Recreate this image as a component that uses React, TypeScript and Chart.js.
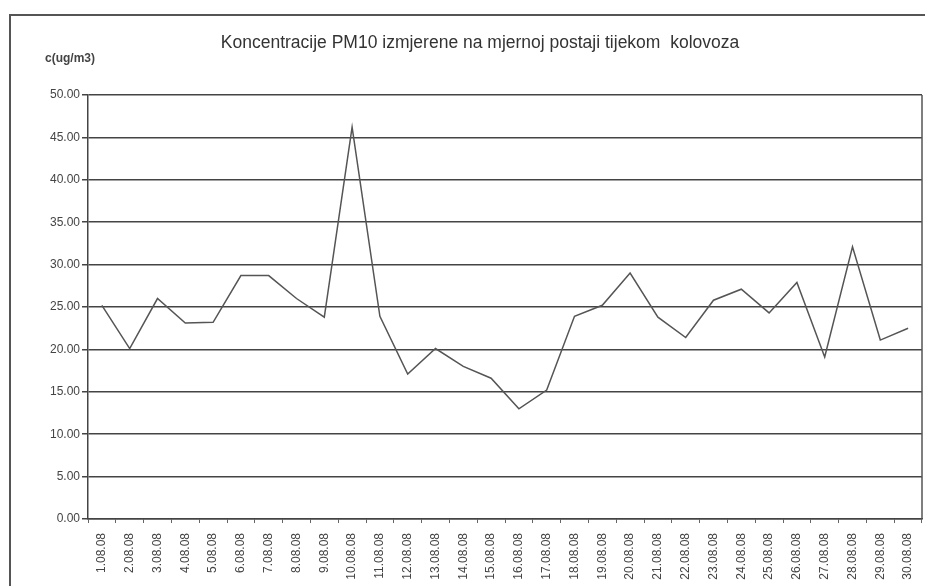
import React, { useEffect, useRef } from "react";
import { Chart, registerables } from "chart.js";

Chart.register(...registerables);

const TITLE = "Koncentracije PM10 izmjerene na mjernoj postaji tijekom  kolovoza";
const Y_LABEL = "c(ug/m3)";

const days: string[] = [
  "1.08.08", "2.08.08", "3.08.08", "4.08.08", "5.08.08", "6.08.08", "7.08.08", "8.08.08",
  "9.08.08", "10.08.08", "11.08.08", "12.08.08", "13.08.08", "14.08.08", "15.08.08",
  "16.08.08", "17.08.08", "18.08.08", "19.08.08", "20.08.08", "21.08.08", "22.08.08",
  "23.08.08", "24.08.08", "25.08.08", "26.08.08", "27.08.08", "28.08.08", "29.08.08", "30.08.08",
];

const pm10: number[] = [
  25.2, 20.1, 26.0, 23.1, 23.2, 28.7, 28.7, 26.0, 23.8, 46.2,
  23.9, 17.1, 20.1, 18.0, 16.6, 13.0, 15.2, 23.9, 25.2, 29.0,
  23.8, 21.4, 25.8, 27.1, 24.3, 27.9, 19.1, 32.1, 21.1, 22.5,
];

const Y_MIN = 0;
const Y_MAX = 50;
const Y_STEP = 5;

const FONT = "'Liberation Sans', Arial, sans-serif";

export default function App() {
  const ref = useRef<HTMLCanvasElement | null>(null);

  useEffect(() => {
    if (!ref.current) return;

    const decor = {
      id: "decor",
      beforeDraw(chart: any) {
        const { ctx } = chart;
        ctx.save();
        ctx.fillStyle = "#ffffff";
        ctx.fillRect(0, 0, chart.width, chart.height);
        // outer frame (top + left)
        ctx.strokeStyle = "#555";
        ctx.lineWidth = 2;
        ctx.beginPath();
        ctx.moveTo(10, chart.height);
        ctx.lineTo(10, 15);
        ctx.lineTo(chart.width, 15);
        ctx.stroke();
        // title
        ctx.fillStyle = "#333";
        ctx.font = `17.5px ${FONT}`;
        ctx.textAlign = "center";
        ctx.textBaseline = "middle";
        ctx.fillText(TITLE, 480, 43);
        // y unit label
        ctx.font = `bold 12px ${FONT}`;
        ctx.fillStyle = "#444";
        ctx.fillText(Y_LABEL, 70, 59);
        ctx.restore();
      },
      afterDatasetsDraw(chart: any) {
        const { ctx, chartArea } = chart;
        ctx.save();
        ctx.strokeStyle = "#555";
        ctx.lineWidth = 1.5;
        ctx.beginPath();
        ctx.moveTo(chartArea.right, chartArea.top);
        ctx.lineTo(chartArea.right, chartArea.bottom);
        ctx.stroke();
        ctx.restore();
      },
    };

    const chart = new Chart(ref.current, {
      type: "line",
      data: {
        labels: days,
        datasets: [
          {
            data: pm10,
            borderColor: "#555",
            borderWidth: 1.5,
            pointRadius: 0,
            tension: 0,
            fill: false,
          },
        ],
      },
      options: {
        animation: false,
        responsive: true,
        maintainAspectRatio: false,
        layout: { padding: { top: 95, right: 3, bottom: 0, left: 0 } },
        plugins: {
          legend: { display: false },
          title: { display: false },
          tooltip: { enabled: false },
        },
        scales: {
          x: {
            type: "category",
            offset: true,
            grid: {
              offset: true,
              drawOnChartArea: false,
              drawTicks: true,
              tickLength: 4,
              color: "#666",
              lineWidth: 1,
            },
            border: { display: true, color: "#444", width: 1.5 },
            ticks: {
              autoSkip: false,
              maxRotation: 90,
              minRotation: 90,
              padding: 10,
              color: "#444",
              font: { family: FONT, size: 12 },
            },
            afterFit(scale: any) {
              scale.height = 67;
              scale.paddingLeft = 0;
              scale.paddingRight = 0;
            },
          },
          y: {
            min: Y_MIN,
            max: Y_MAX,
            ticks: {
              stepSize: Y_STEP,
              padding: 2,
              color: "#444",
              font: { family: FONT, size: 12 },
              callback: (v: any) => Number(v).toFixed(2),
            },
            grid: {
              color: "#444",
              lineWidth: 1.5,
              tickLength: 6,
              drawTicks: true,
            },
            border: { display: true, color: "#444", width: 1.5 },
            afterFit(scale: any) {
              scale.width = 88;
              scale.paddingTop = 0;
              scale.paddingBottom = 0;
            },
          },
        },
      },
      plugins: [decor],
    });

    return () => chart.destroy();
  }, []);

  return (
    <div style={{ position: "absolute", left: 0, top: 0, width: 925, height: 586 }}>
      <canvas ref={ref} />
    </div>
  );
}
